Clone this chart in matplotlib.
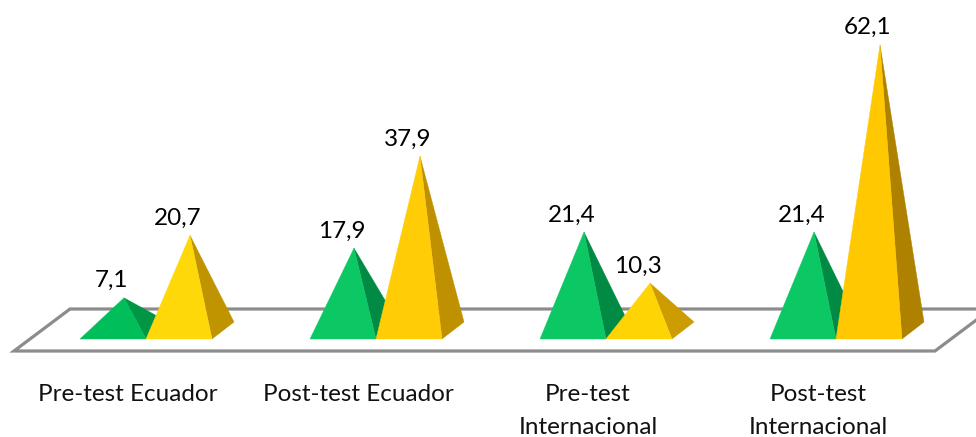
import matplotlib
matplotlib.use("Agg")
import matplotlib.pyplot as plt
from matplotlib.patches import Polygon

categories = ["Pre-test Ecuador", "Post-test Ecuador", "Pre-test\nInternacional", "Post-test\nInternacional"]
green_values = [7.1, 17.9, 21.4, 21.4]
yellow_values = [20.7, 37.9, 10.3, 62.1]
value_labels_green = ["7,1", "17,9", "21,4", "21,4"]
value_labels_yellow = ["20,7", "37,9", "10,3", "62,1"]

green_front = ["#00BE5A", "#0BC864", "#0BC864", "#0BC864"]
green_side = ["#009644", "#008A44", "#008A44", "#008A44"]
yellow_front = ["#FFD80A", "#FFCC05", "#FFD405", "#FFC800"]
yellow_side = ["#BF9400", "#BF9000", "#CC9C00", "#AE8200"]

W, H = 976, 437
plt.rcParams["font.family"] = ["Lato", "DejaVu Sans"]
fig = plt.figure(figsize=(W / 100, H / 100), dpi=100)
ax = fig.add_axes([0, 0, 1, 1])

# Scales: one category step is 230 px, one value unit is 4.6 px
step_px, unit_px = 230.0, 4.6
ax.set_xlim(-146 / step_px, (W - 146) / step_px)
ax.set_ylim(-(H - 339) / unit_px, 339 / unit_px)
ax.axis("off")

bar_w = 66 / step_px
depth_x, depth_y = 22 / step_px, 17 / unit_px

# Floor of the 3D plot area
fx0, fx1 = -132 / step_px, 789 / step_px
fy0, fy1 = -12 / unit_px, 30 / unit_px
fdx = 56 / step_px
floor = Polygon([(fx0, fy0), (fx1, fy0), (fx1 + fdx, fy1), (fx0 + fdx, fy1)],
                closed=True, facecolor="white", edgecolor="#8C8C8C",
                linewidth=2.3, joinstyle="miter", zorder=1)
ax.add_patch(floor)


def pyramid(left, value, front, side, z):
    """Draw a square-based pyramid whose front base edge starts at `left`."""
    right = left + bar_w
    apex = (left + bar_w / 2 + depth_x / 2, value + depth_y / 2)
    ax.add_patch(Polygon([(right, 0), (right + depth_x, depth_y), apex],
                         closed=True, facecolor=side, edgecolor=side, linewidth=0.3, zorder=z))
    ax.add_patch(Polygon([(left, 0), (right, 0), apex],
                         closed=True, facecolor=front, edgecolor=front, linewidth=0.3, zorder=z + 0.1))
    return apex


label_style = dict(textcoords="offset points", ha="center", va="center",
                   fontsize=17.5, color="#000000", zorder=10)

for i, cat in enumerate(categories):
    a = pyramid(i - bar_w, green_values[i], green_front[i], green_side[i], 2 + i)
    ax.annotate(value_labels_green[i], a, xytext=(-12 * 0.72, 17 * 0.72), **label_style)
    b = pyramid(i, yellow_values[i], yellow_front[i], yellow_side[i], 3 + i)
    ax.annotate(value_labels_yellow[i], b, xytext=(-12 * 0.72, 17 * 0.72), **label_style)
    ax.text(i - 18 / step_px, -44.6 / unit_px, cat, ha="center", va="top",
            fontsize=17.5, color="#111111", linespacing=1.75, zorder=10)

fig.savefig("out.png", dpi=100)
